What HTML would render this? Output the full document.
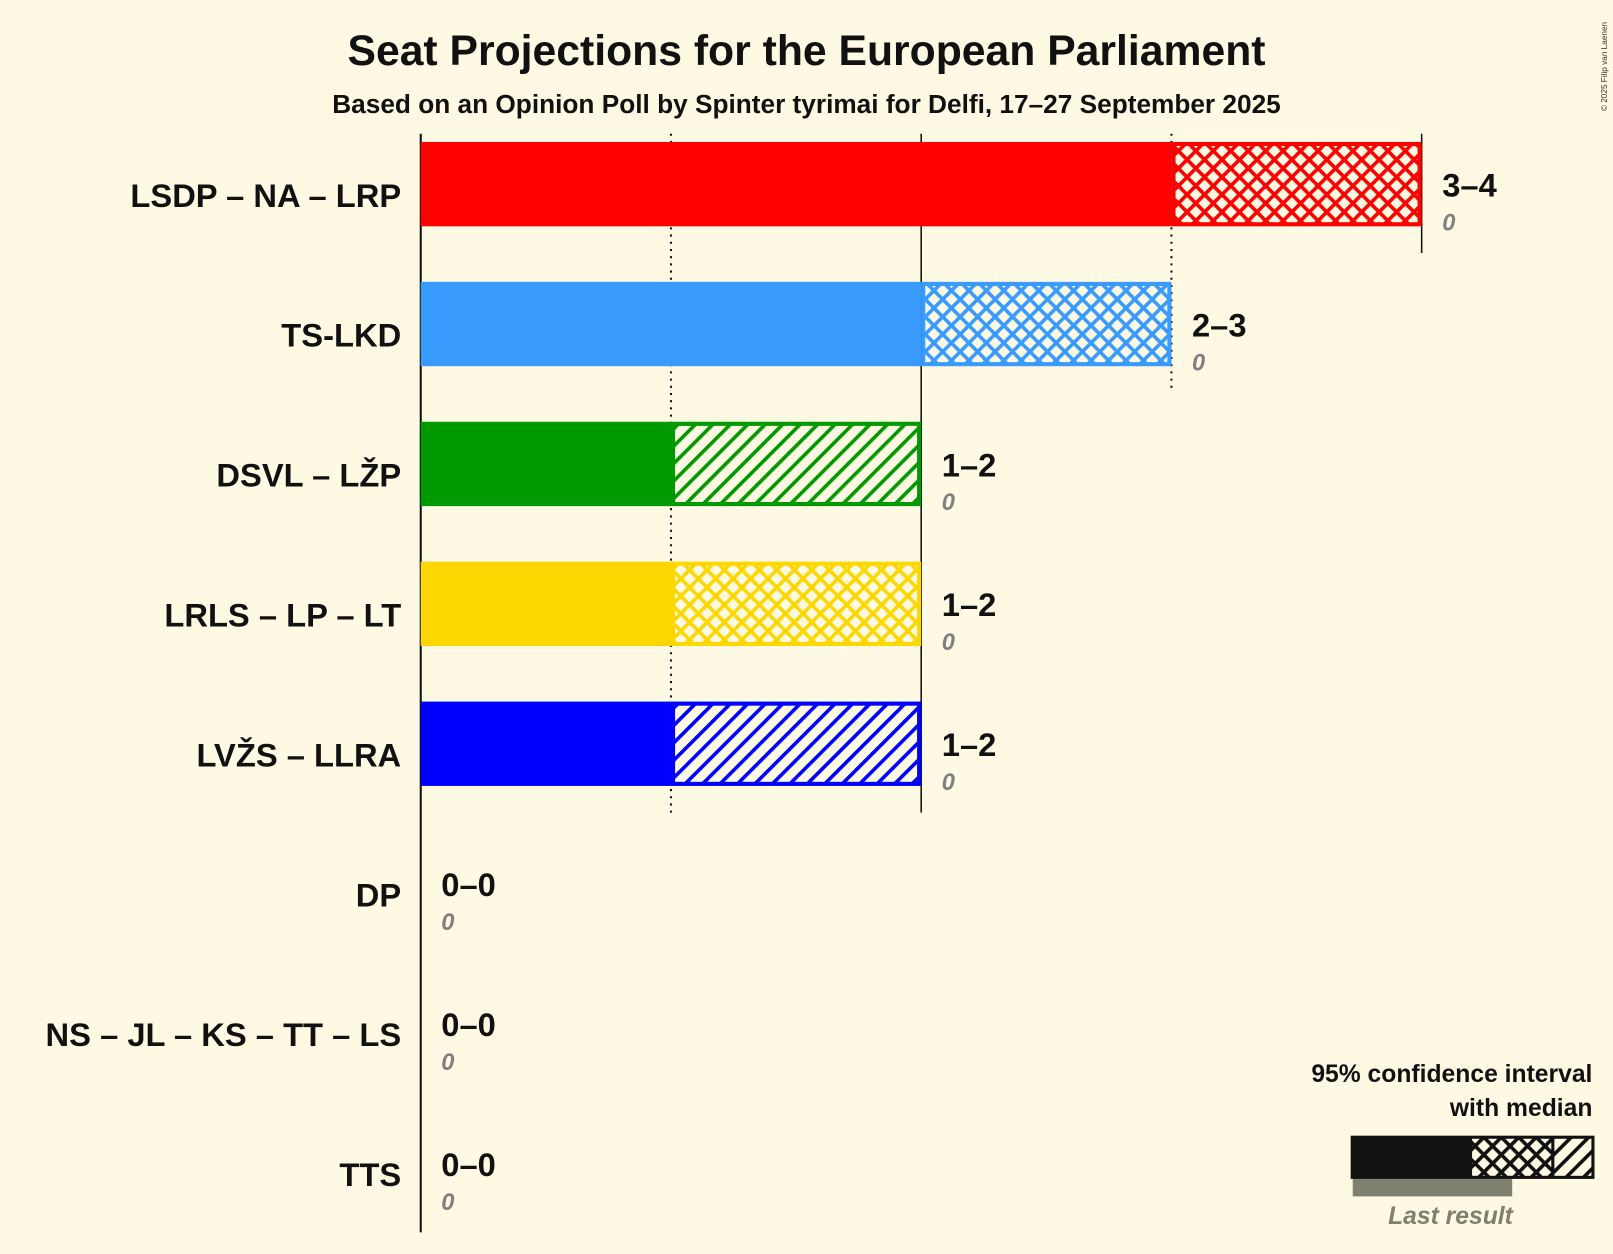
<!DOCTYPE html>
<html><head><meta charset="utf-8"><style>
html,body{margin:0;padding:0;background:#fdf9e3;}
svg{display:block;font-family:"Liberation Sans",sans-serif;}
</style></head><body>
<svg id="chart" width="1613" height="1254" viewBox="0 0 1568 1219" preserveAspectRatio="none">
<defs></defs>
<rect width="1568" height="1219" fill="#fdf9e3"/>
<text x="784" y="63" text-anchor="middle" font-size="41.5" font-weight="bold" fill="#111">Seat Projections for the European Parliament</text>
<text x="784" y="110" text-anchor="middle" font-size="25.5" font-weight="bold" fill="#111">Based on an Opinion Poll by Spinter tyrimai for Delfi, 17–27 September 2025</text>
<text x="1562" y="108" font-size="8" fill="#333" transform="rotate(-90 1562 108)">© 2025 Filip van Laenen</text>
<g id="grid"></g>
<g id="bars"></g>
<g id="legend">
<text x="1548" y="1052" text-anchor="end" font-size="24" font-weight="bold" fill="#111">95% confidence interval</text>
<text x="1548" y="1085" text-anchor="end" font-size="24" font-weight="bold" fill="#111">with median</text>
<rect x="1315" y="1146" width="155" height="17" fill="#808070"/>
<rect x="1313" y="1104" width="237" height="42" fill="#111"/>
<g id="legpat"></g>
<text x="1410" y="1190" text-anchor="middle" font-size="24" font-style="italic" font-weight="bold" fill="#808070">Last result</text>
</g>
</svg>
<script>
const parties = ["LSDP – NA – LRP","TS-LKD","DSVL – LŽP","LRLS – LP – LT","LVŽS – LLRA","DP","NS – JL – KS – TT – LS","TTS"];
const lows = [3,2,1,1,1,0,0,0];
const highs = [4,3,2,2,2,0,0,0];
const lastResult = [0,0,0,0,0,0,0,0];
const colors = ["#ff0000","#3a9bff","#009900","#ffd700","#0000ff","#888","#888","#888"];
const styles = ["cross","cross","diag","cross","diag","cross","cross","cross"];
const ticks = [0,1,2,3,4];

const NS="http://www.w3.org/2000/svg";
const x0=409, pxPerSeat=243.25, rowTop=138, rowStep=136, barH=82;
const X=v=>x0+v*pxPerSeat;
const Y=i=>rowTop+i*rowStep;
function mk(tag,attrs,parent){const e=document.createElementNS(NS,tag);for(const k in attrs)e.setAttribute(k,attrs[k]);parent.appendChild(e);return e;}
const svg=document.getElementById('chart');
const defs=svg.querySelector('defs');
const grid=document.getElementById('grid');
const bars=document.getElementById('bars');
function pattern(id,c,cross){
  const pt=mk('pattern',{id:id,patternUnits:'userSpaceOnUse',width:12,height:12,patternTransform:'rotate(45)'},defs);
  mk('rect',{width:12,height:12,fill:'#fdf9e3'},pt);
  mk('rect',{x:0,y:0,width:3.5,height:12,fill:c},pt);
  if(cross)mk('rect',{x:0,y:0,width:12,height:3.5,fill:c},pt);
}

ticks.forEach(t=>{
  if(t===0)return;
  let last=-1; highs.forEach((h,i)=>{if(h>=t)last=i;});
  const yEnd=last<0?130:Y(last)+barH+26;
  const l=mk('line',{x1:X(t),x2:X(t),y1:130,y2:yEnd,stroke:'#111','stroke-width':t%2===0?1.5:2,'stroke-dasharray':t%2===0?'':'2,5'},grid);
  
  
});
const ax=mk('line',{x1:x0,x2:x0,y1:130,y2:1198,stroke:'#111','stroke-width':2},grid);



parties.forEach((p,i)=>{
  const y=Y(i), c=colors[i];
  const lab=mk('text',{x:390,y:y+63,'text-anchor':'end','font-size':31.8,'font-weight':'bold',fill:'#111'},bars);
  lab.textContent=p;
  
  
  if(highs[i]>0){
    const pid='p'+i;
    pattern(pid,c,styles[i]!=='diag');
    const s=mk('rect',{x:X(0),y:y,width:X(lows[i])-X(0),height:barH,fill:c},bars);
    
    
    const h=mk('rect',{x:X(lows[i])+2,y:y+2,width:X(highs[i])-X(lows[i])-4,height:barH-4,fill:'url(#'+pid+')',stroke:c,'stroke-width':4},bars);
    
    
  }
  const tx=X(highs[i])+20;
  const r=mk('text',{x:tx,y:y+53,'font-size':31.8,'font-weight':'bold',fill:'#111'},bars);
  r.textContent=lows[i]+'–'+highs[i];
  
  
  const lr=mk('text',{x:tx,y:y+86,'font-size':23,'font-style':'italic','font-weight':'bold',fill:'#808080'},bars);
  lr.textContent=lastResult[i];
  
  
});
pattern('legc','#111',true);
pattern('legd','#111',false);
const lg=document.getElementById('legpat');
const lc=mk('rect',{x:1431,y:1107,width:77,height:36,fill:'url(#legc)'},lg);


const ld=mk('rect',{x:1511,y:1107,width:36,height:36,fill:'url(#legd)'},lg);


</script>
</body></html>
